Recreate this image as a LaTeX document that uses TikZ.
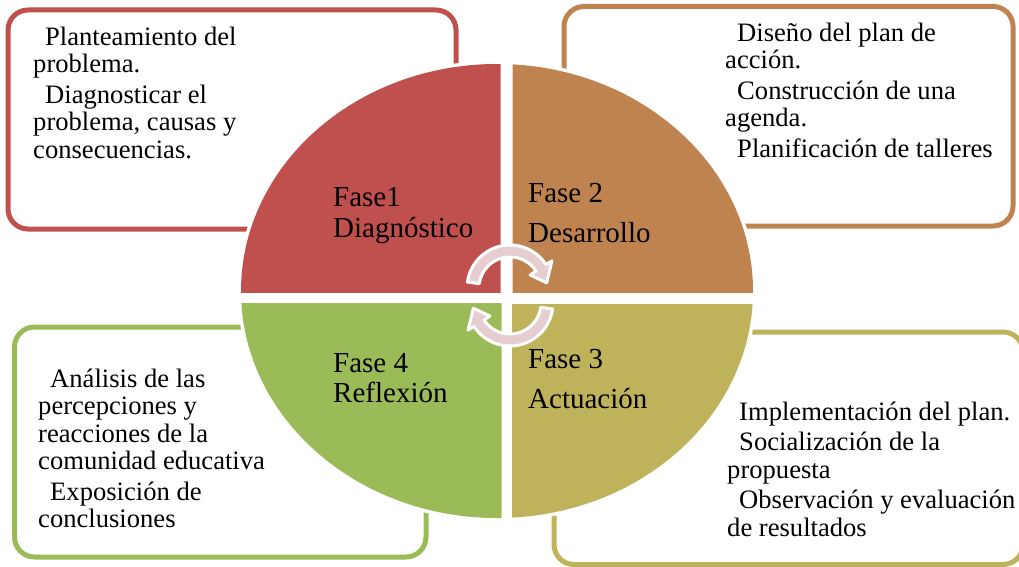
\documentclass[tikz,border=0pt]{standalone}
\usepackage{fontspec}
\setmainfont{Liberation Serif}
\definecolor{qred}{HTML}{C0504D}
\definecolor{qorange}{HTML}{BF8350}
\definecolor{qolive}{HTML}{BEB25A}
\definecolor{qgreen}{HTML}{9BBB59}
\definecolor{arrowpink}{HTML}{E6CDD0}
\newcommand{\fstrut}{\rule{0pt}{25pt}}
\newcommand{\pstrut}{\rule{0pt}{24pt}}
\newcommand{\ind}{\hspace*{12pt}}
\begin{document}
\begin{tikzpicture}[x=1pt,y=-1pt,
  box/.style={line width=5pt, rounded corners=20pt},
  txt/.style={anchor=north west, inner sep=0pt, align=left, font=\fontsize{26.6}{27.5}\selectfont},
  phase/.style={anchor=north west, inner sep=0pt, align=left, font=\fontsize{29}{31}\selectfont},
  cyc/.style={fill=arrowpink, draw=white, line width=3pt, line join=round}]
\useasboundingbox (0,0) rectangle (1019,567);
% boxes
\draw[box, draw=qred] (8,10) rectangle (456,229);
\draw[box, draw=qorange] (564,6.5) rectangle (1013,226);
\draw[box, draw=qgreen] (14.5,327) rectangle (426,557);
\draw[box, draw=qolive] (554,332) rectangle (1023,564.5);
% pie
\draw[white, line width=7pt] (497,291) ellipse [x radius=256, y radius=227];
\begin{scope}
  \clip (0,0) rectangle (500.5,292);
  \fill[qred] (497,291) ellipse [x radius=256, y radius=227];
\end{scope}
\begin{scope}
  \clip (512.5,0) rectangle (1019,292);
  \fill[qorange] (497,291) ellipse [x radius=256, y radius=227];
\end{scope}
\begin{scope}
  \clip (0,303) rectangle (501.5,567);
  \fill[qgreen] (497,291) ellipse [x radius=256, y radius=227];
\end{scope}
\begin{scope}
  \clip (512,304.5) rectangle (1019,567);
  \fill[qolive] (497,291) ellipse [x radius=256, y radius=227];
\end{scope}
% cycle arrows
\path[cyc, shift={(510,288)}] (188:43) arc[start angle=188, end angle=327, radius=43]
  -- (327:50) -- (352:37) -- (327:24) -- (327:31)
  arc[start angle=327, end angle=188, radius=31] -- cycle;
\path[cyc, shift={(510,303)}] (8:43) arc[start angle=8, end angle=147, radius=43]
  -- (147:50) -- (172:37) -- (147:24) -- (147:31)
  arc[start angle=147, end angle=8, radius=31] -- cycle;
% phase labels
\node[phase] (p1) at (333,182) {\pstrut Fase1\\Diagnóstico};
\node[phase] (p2) at (528,178) {\pstrut Fase 2\\[9pt]Desarrollo};
\node[phase] (p4) at (333,348) {\pstrut Fase 4\\[-1pt]Reflexión};
\node[phase] (p3) at (528,344) {\pstrut Fase 3\\[9pt]Actuación};
% box texts
\node[txt] (t1) at (33,20) {\fstrut\ind Planteamiento del\\problema.\\[3pt]\ind Diagnosticar el\\problema, causas y\\consecuencias.};
\node[txt] (t2) at (725,16) {\fstrut\ind Diseño del plan de\\acción.\\[3pt]\ind Construcción de una\\agenda.\\[3pt]\ind Planificación de talleres};
\node[txt] (t4) at (38,362) {\fstrut\ind Análisis de las\\percepciones y\\reacciones de la\\comunidad educativa\\[3pt]\ind Exposición de\\conclusiones};
\node[txt] (t3) at (727,395) {\fstrut\ind Implementación del plan.\\[3pt]\ind Socialización de la\\propuesta\\[3pt]\ind Observación y evaluación\\de resultados};
\end{tikzpicture}
\end{document}
